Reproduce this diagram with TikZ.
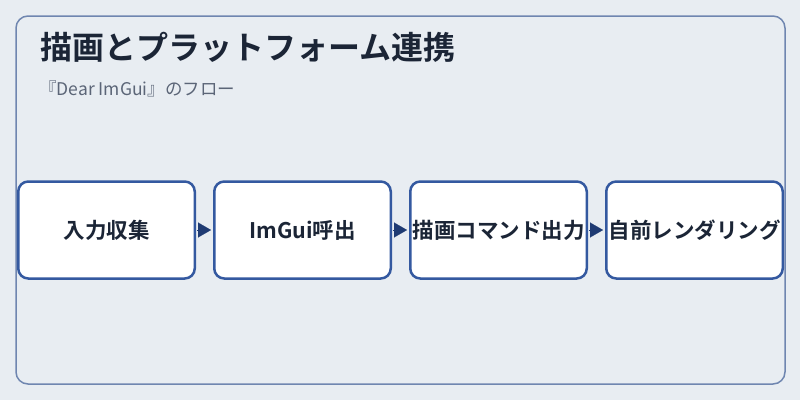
\documentclass[tikz,border=0pt]{standalone}
\usepackage{fontspec}
\usepackage{tikz}
\usetikzlibrary{positioning,arrows.meta}
\newfontfamily\jpfont[BoldFont={* Bold}]{Noto Sans CJK JP}
\definecolor{bgcol}{HTML}{E8EDF2}
\definecolor{framecol}{HTML}{6F86B0}
\definecolor{boxcol}{HTML}{3459A0}
\definecolor{inkcol}{HTML}{1B2536}
\definecolor{subcol}{HTML}{5B6577}
\definecolor{tipcol}{HTML}{1F3B73}

\begin{document}
\begin{tikzpicture}[
  x=1pt,y=-1pt,
  every node/.style={font=\jpfont,text=inkcol},
  stagebox/.style={draw=boxcol,fill=white,line width=2.5pt,
    rounded corners=10pt,minimum width=176.5pt,minimum height=97pt,
    inner sep=0pt,font=\jpfont\bfseries\fontsize{21.5}{25}\selectfont},
  flowtip/.style={-{Triangle[length=13pt,width=15pt]},draw=tipcol,
    fill=tipcol,line width=0.1pt,shorten <=1pt,shorten >=2pt}
]
% 背景と枠
\fill[bgcol] (0,0) rectangle (800,400);
\draw[framecol,line width=1.5pt,rounded corners=12pt] (16,16) rectangle (785,384);

% 見出し
\node[anchor=base west,inner sep=0pt,font=\jpfont\bfseries\fontsize{32}{38}\selectfont]
  (title) at (40,59) {描画とプラットフォーム連携};
\node[anchor=base west,inner sep=0pt,text=subcol,font=\jpfont\fontsize{17.5}{21}\selectfont]
  (subtitle) at (39,95) {『Dear ImGui』のフロー};

% フロー
\node[stagebox] (input) at (106.5,230) {入力収集};
\node[stagebox,right=17pt of input] (call) {ImGui呼出};
\node[stagebox,right=17pt of call] (cmd) {描画コマンド出力};
\node[stagebox,right=17pt of cmd] (render) {自前レンダリング};

\draw[flowtip] (input) -- (call);
\draw[flowtip] (call) -- (cmd);
\draw[flowtip] (cmd) -- (render);
\end{tikzpicture}
\end{document}
